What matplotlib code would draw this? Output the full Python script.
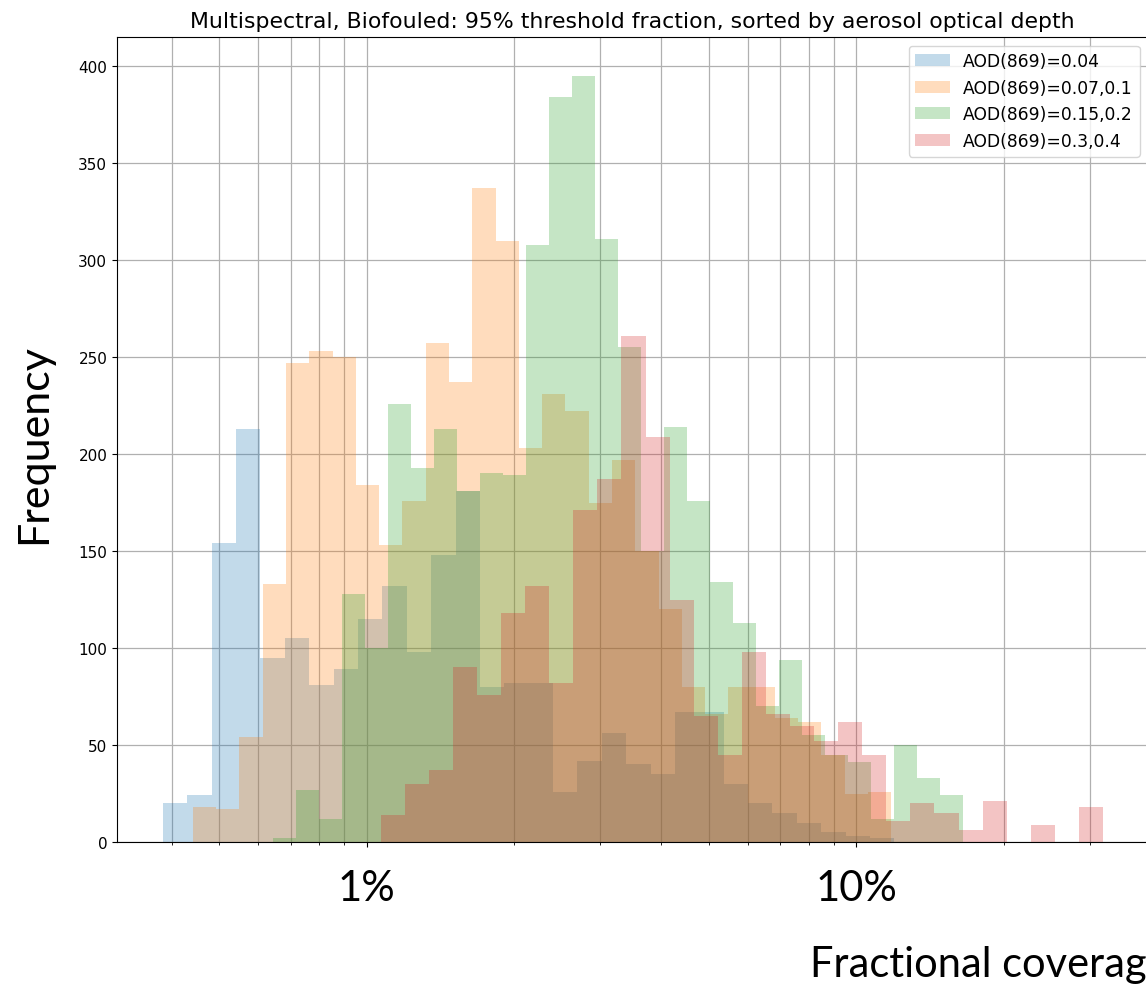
import numpy as np
import matplotlib.pyplot as plt
from matplotlib.ticker import LogLocator, NullFormatter, FixedLocator, FixedFormatter

# ---------------------------------------------------------------
# Histogram counts: 30 log-spaced bins per group
labels = ['AOD(869)=0.04', 'AOD(869)=0.07,0.1', 'AOD(869)=0.15,0.2', 'AOD(869)=0.3,0.4']

# bin range (fractional coverage, %) of each group
range_004 = (0.3835, 11.96)
range_007 = (0.4415, 11.79)
range_015 = (0.6428, 16.54)
range_030 = (1.068, 31.9)

counts_004 = [20, 24, 154, 213, 95, 105, 81, 89, 115, 132,
              98, 148, 181, 80, 82, 82, 26, 42, 56, 40,
              35, 67, 67, 30, 20, 15, 10, 5, 3, 2]
counts_007 = [18, 17, 54, 133, 247, 253, 250, 184, 153, 176,
              257, 237, 337, 310, 203, 231, 222, 175, 197, 150,
              120, 80, 66, 80, 80, 64, 62, 45, 25, 26]
counts_015 = [2, 27, 12, 128, 100, 226, 193, 213, 181, 190,
              189, 308, 384, 395, 311, 255, 150, 214, 176, 134,
              113, 70, 94, 55, 45, 41, 12, 50, 33, 24]
counts_030 = [14, 30, 37, 90, 76, 118, 132, 82, 171, 187,
              261, 209, 125, 65, 45, 98, 66, 60, 52, 62,
              45, 11, 20, 15, 6, 21, 0, 9, 0, 18]

groups = [(range_004, counts_004), (range_007, counts_007),
          (range_015, counts_015), (range_030, counts_030)]

fig = plt.figure(figsize=(11.46, 9.87), dpi=100)
ax = fig.add_axes([0.1021, 0.1459, 0.9000, 0.8156])

# one histogram per AOD group, drawn on top of each other
for i, ((lo, hi), cnt) in enumerate(groups):
    edges = np.logspace(np.log10(lo), np.log10(hi), len(cnt) + 1)
    centers = np.sqrt(edges[:-1] * edges[1:])
    ax.hist(centers, bins=edges, weights=cnt, alpha=0.27, color='C%d' % i,
            label=labels[i])

ax.set_xscale('log')
ax.set_xlim(0.309, 39.5)
ax.set_ylim(0, 415)

ax.xaxis.set_major_locator(FixedLocator([1, 10]))
ax.xaxis.set_major_formatter(FixedFormatter(['1%', '10%']))
ax.xaxis.set_minor_locator(LogLocator(base=10, subs=np.arange(2, 10)))
ax.xaxis.set_minor_formatter(NullFormatter())
ax.tick_params(axis='x', which='major', labelsize=30, pad=16)
ax.tick_params(axis='y', labelsize=11)
for lab in ax.get_xticklabels():
    lab.set_fontfamily('Lato')

ax.grid(True, which='both', axis='x', color='#b0b0b0', lw=0.9)
ax.grid(True, which='major', axis='y', color='#b0b0b0', lw=0.9)
ax.set_axisbelow(True)

ax.set_title('Multispectral, Biofouled: 95% threshold fraction, sorted by aerosol optical depth',
             fontsize=15.8, pad=7)
ax.legend(loc='upper right', fontsize=12.3, borderaxespad=0.5)

fig.text(0.030, 0.55, 'Frequency', rotation=90, fontsize=31, family='Lato',
         ha='center', va='center')
fig.text(0.707, 0.003, 'Fractional coverage (%)', fontsize=30, family='Lato',
         ha='left', va='bottom')

fig.savefig('out.png', dpi=100)
